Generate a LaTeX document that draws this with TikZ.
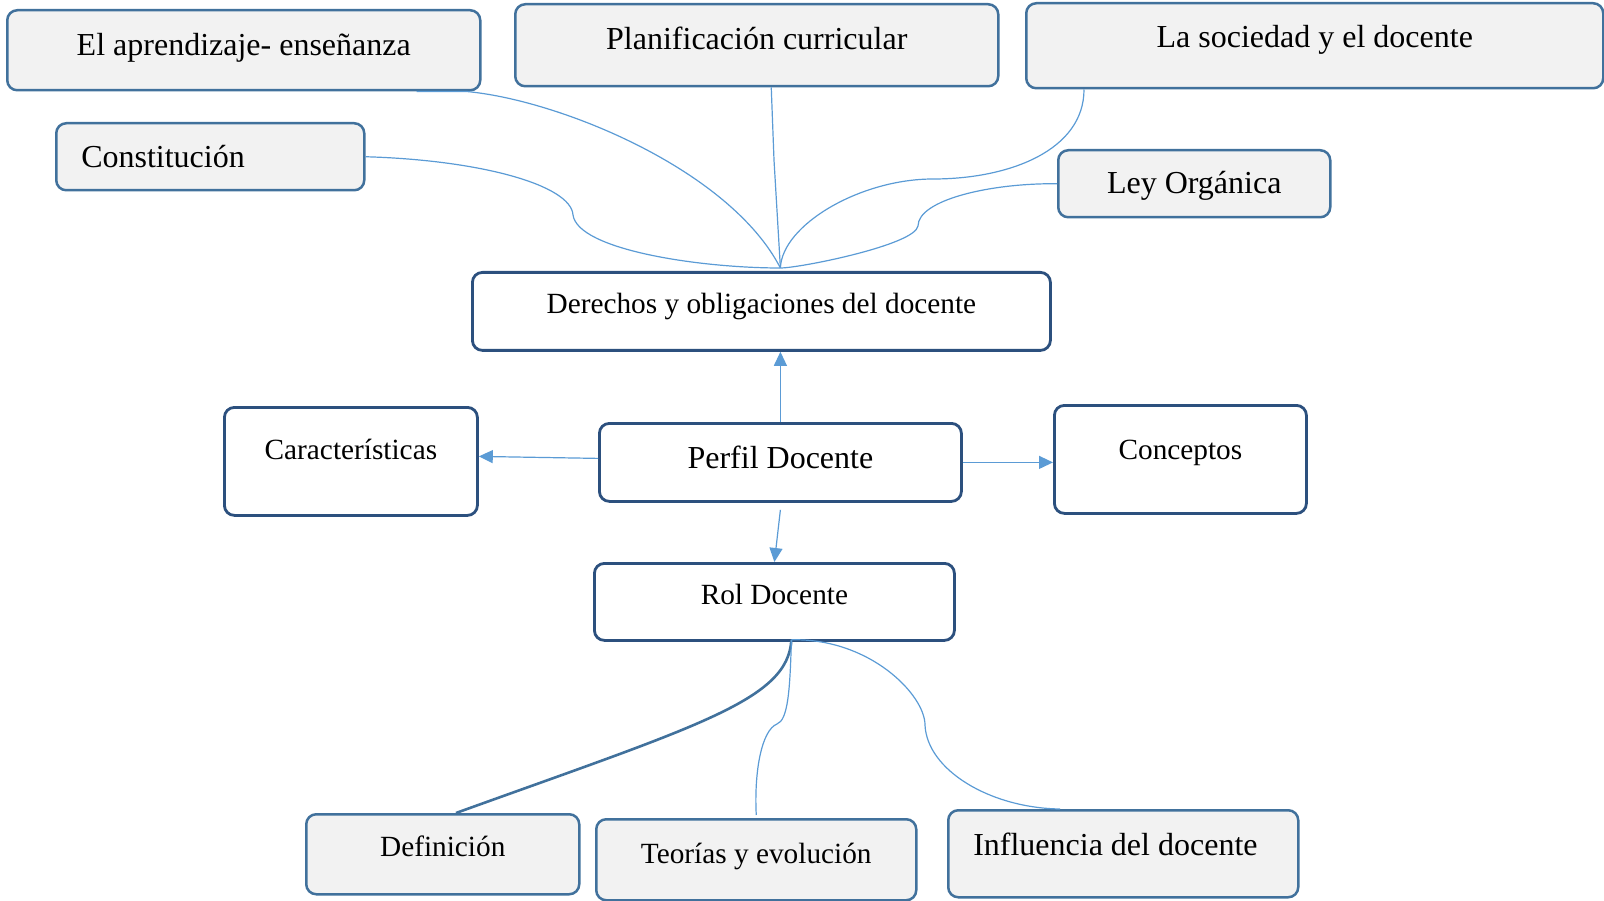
\documentclass[tikz,border=0pt]{standalone}
\usepackage{fontspec}
\setmainfont{Liberation Serif}
\usetikzlibrary{arrows.meta,calc}
\definecolor{grayfill}{HTML}{F2F2F2}
\definecolor{grayborder}{HTML}{41719C}
\definecolor{navyborder}{HTML}{2C507E}
\definecolor{linkblue}{HTML}{5B9BD5}
\newcommand{\bigtxt}{\fontsize{32}{38}\selectfont}
\newcommand{\smtxt}{\fontsize{29.3}{35}\selectfont}
\tikzset{
  graybox/.style={draw=grayborder, fill=grayfill, line width=2.5pt, rounded corners=10pt,
    anchor=north west, inner xsep=0pt, inner ysep=0pt},
  whitebox/.style={draw=navyborder, fill=white, line width=2.8pt, rounded corners=10pt,
    anchor=north west, inner xsep=0pt, inner ysep=0pt},
  leftbox/.style={inner xsep=25pt},
  link/.style={draw=linkblue, line width=1.2pt},
  thicklink/.style={draw=grayborder, line width=2.6pt},
  arrowlink/.style={draw=linkblue, line width=1.2pt, -{Triangle[width=13pt,length=14pt]}, color=linkblue},
}
\begin{document}
\begin{tikzpicture}[x=1pt,y=-1pt]
\useasboundingbox (0,0) rectangle (1604,901);

% top gray boxes
\node[graybox, minimum width=473pt, text height=45pt, text depth=35pt] (apr) at (6,9) {\bigtxt El aprendizaje- enseñanza};
\node[graybox, minimum width=483pt, text height=45pt, text depth=37pt] (plan) at (514,3) {\bigtxt Planificación curricular};
\node[graybox, minimum width=577pt, text height=44pt, text depth=41pt] (soc) at (1025,2) {\bigtxt La sociedad y el docente};
\node[graybox, leftbox, text height=44pt, text depth=23pt] (cons) at (55,122) {\bigtxt\makebox[258pt][l]{Constitución}};
\node[graybox, minimum width=272pt, text height=43pt, text depth=24pt] (ley) at (1057,149) {\bigtxt Ley Orgánica};

% white boxes
\node[whitebox, minimum width=578pt, text height=41pt, text depth=37pt] (der) at (471,271) {\smtxt Derechos y obligaciones del docente};
\node[whitebox, minimum width=253pt, text height=52pt, text depth=56pt] (car) at (223,406) {\smtxt Características};
\node[whitebox, minimum width=362pt, text height=45pt, text depth=33pt] (perf) at (598,422) {\bigtxt Perfil Docente};
\node[whitebox, minimum width=252pt, text height=54pt, text depth=54pt] (conc) at (1053,404) {\smtxt Conceptos};
\node[whitebox, minimum width=360pt, text height=41pt, text depth=36pt] (rol) at (593,562) {\smtxt Rol Docente};

% bottom gray boxes
\node[graybox, minimum width=273pt, text height=42pt, text depth=38pt] (def) at (305,813) {\smtxt Definición};
\node[graybox, minimum width=320pt, text height=44pt, text depth=37pt] (teo) at (595,818) {\smtxt Teorías y evolución};
\node[graybox, leftbox, text height=45pt, text depth=42pt] (inf) at (947,809) {\bigtxt\makebox[300pt][l]{Influencia del docente}};

% hubs
\coordinate (hubT) at ([xshift=19pt,yshift=3pt]der.north);
\coordinate (hubB) at ([xshift=17pt,yshift=2pt]rol.south);

% top connectors
\draw[link] ([xshift=-65pt]apr.south east) -- ([xshift=-15pt]apr.south east)
  .. controls (560,100) and (730,170) .. (hubT);
\draw[link] ([xshift=14.5pt]plan.south) -- (774,160) -- (hubT);
\draw[link] ([xshift=59pt]soc.south west) .. controls (1084,150) and (1010,179) .. (933,179)
  .. controls (860,179) and (782,225) .. (hubT);
\draw[link] (ley.west) .. controls (990,183) and (918,200) .. (918,226)
  .. controls (915,245) and (800,268) .. (hubT);
\draw[link] (cons.east) .. controls (480,160) and (571,185) .. (573,215)
  .. controls (578,250) and (700,268) .. (hubT);

% arrows from Perfil Docente
\draw[arrowlink] (perf.north) -- (perf.north |- der.south);
\draw[arrowlink] ([yshift=4pt]perf.west) -- ([yshift=5pt]car.east);
\draw[arrowlink] (perf.east) -- (perf.east -| conc.west);
\draw[arrowlink] ([yshift=-7pt]perf.south) -- (rol.north);

% bottom connectors
\draw[thicklink] (hubB) .. controls (788,700) and (700,725) .. ([xshift=151pt]def.north west);
\draw[link] (hubB) .. controls (790,690) and (788,720) .. (777,724)
  .. controls (762,730) and (754,770) .. ([yshift=3pt]teo.north);
\draw[link] (hubB) .. controls (870,638) and (925,695) .. (925,725)
  .. controls (927,770) and (990,808) .. ([xshift=113pt]inf.north west);
\end{tikzpicture}
\end{document}
